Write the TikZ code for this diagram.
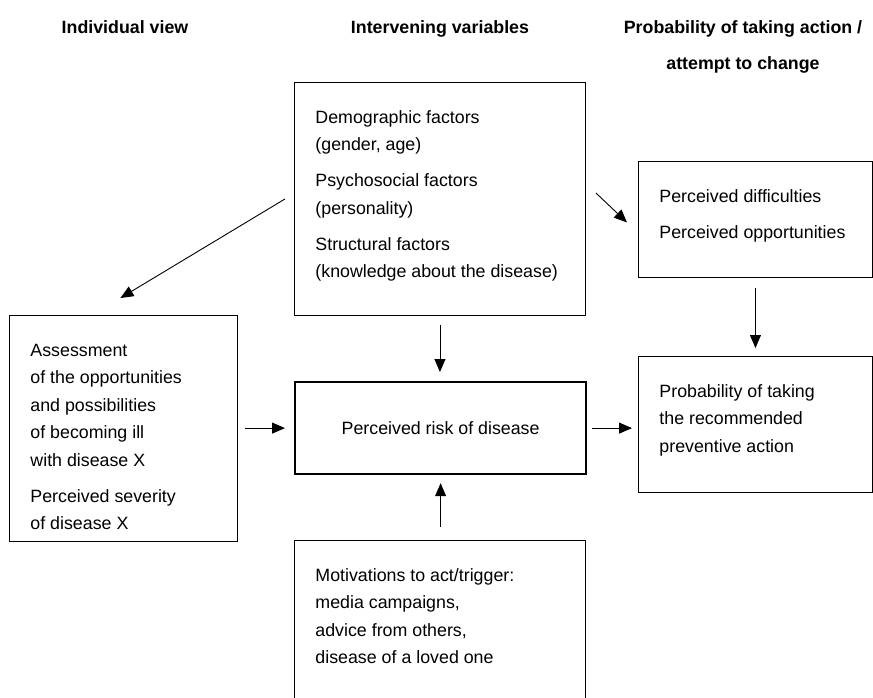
\documentclass[tikz,border=0pt]{standalone}
\usepackage{fontspec}
\setmainfont{Liberation Sans}
\usetikzlibrary{arrows.meta,positioning}
\newcommand{\boxlines}[3]{\parbox[c][#2][t]{#1}{\vspace*{21.75pt}\raggedright\leftskip=21pt\strut #3}}

\begin{document}
\begin{tikzpicture}[x=1pt,y=-1pt,
  txt/.style={font=\fontsize{17.8}{27.5}\selectfont},
  ttl/.style={font=\fontsize{17.8}{27.5}\selectfont\bfseries, anchor=north, inner sep=0pt, align=center},
  box/.style={txt, draw, line width=0.9pt, anchor=north west, inner sep=0pt},
  arr/.style={line width=0.9pt, -{Triangle[length=13pt,width=11pt]}}]
\useasboundingbox (0,0) rectangle (873,697);
\clip (0,0) rectangle (873,697);
\node [ttl] (tindiv) at (125,20) {Individual view};
\node [ttl] (tinter) at (440,20) {Intervening variables};
\node [ttl] (tprob) at (743,20) {Probability of taking action /\\[8.5pt]attempt to change};
\node [box] (factors) at (294,82) {\boxlines{291pt}{233pt}{Demographic factors\\(gender, age)\\[8.5pt]Psychosocial factors\\(personality)\\[8.5pt]Structural factors\\(knowledge about the disease)}};
\node [box] (assess) at (9,315) {\boxlines{228pt}{226pt}{Assessment\\of the opportunities\\and possibilities\\of becoming ill\\with disease X\\[8.5pt]Perceived severity\\of disease X}};
\node [txt, draw, line width=2.2pt, minimum width=291pt, minimum height=92pt, anchor=north west, inner sep=0pt] (risk) at (294,381) {Perceived risk of disease};
\node [box] (motiv) at (294,540) {\boxlines{291pt}{200pt}{Motivations to act/trigger:\\media campaigns,\\advice from others,\\disease of a loved one}};
\node [box] (diffic) at (638,161) {\boxlines{234pt}{116pt}{Perceived difficulties\\[8.5pt]Perceived opportunities}};
\node [box] (action) at (638,356) {\boxlines{234pt}{136pt}{Probability of taking\\the recommended\\preventive action}};
\draw[arr] ([xshift=-9pt]factors.west) -- ([xshift=-3pt,yshift=17pt]assess.north);
\draw[arr] ([xshift=10pt,yshift=6pt]factors.east) -- ([xshift=-11pt,yshift=-3pt]diffic.west);
\draw[arr, shorten <=9pt, shorten >=9pt] (factors.south) -- (factors.south |- risk.north);
\draw[arr, shorten <=13pt, shorten >=8pt] (risk.south |- motiv.north) -- (risk.south);
\draw[arr, shorten <=7pt, shorten >=9pt] (assess.east |- risk.west) -- (risk.west);
\draw[arr, shorten <=5pt, shorten >=6pt] (risk.east) -- (risk.east -| action.west);
\draw[arr, shorten <=10pt, shorten >=8pt] (diffic.south) -- (action.north);
\end{tikzpicture}
\end{document}
